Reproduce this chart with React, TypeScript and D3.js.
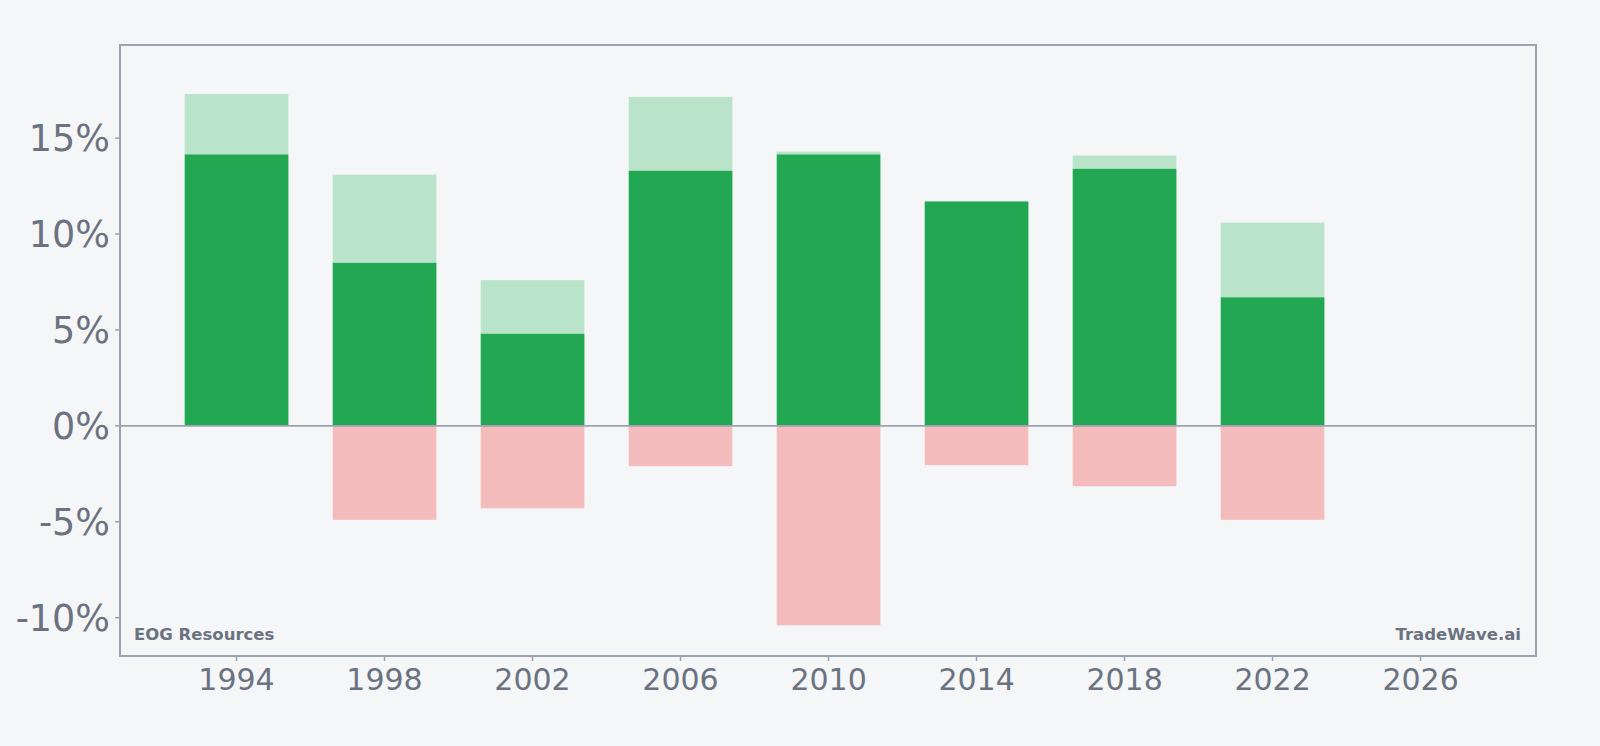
import React from "react";
import * as d3 from "d3";

// yearly return ranges, in percent
const years = [1994, 1998, 2002, 2006, 2010, 2014, 2018, 2022];
const highs = [17.3, 13.1, 7.6, 17.15, 14.3, 11.7, 14.1, 10.6];
const mids = [14.15, 8.5, 4.8, 13.3, 14.15, 11.7, 13.4, 6.7];
const lows = [0, -4.9, -4.3, -2.1, -10.4, -2.05, -3.15, -4.9];

const xTicks = [1994, 1998, 2002, 2006, 2010, 2014, 2018, 2022, 2026];
const yTicks = [-10, -5, 0, 5, 10, 15];

const W = 1600;
const H = 746;
const left = 120;
const right = 1536;
const top = 45;
const bottom = 656;

const grey = "#6b7280";
const frame = "#9ca3af";

export default function App() {
  const x = d3.scaleLinear().domain([1990.85, 2029.12]).range([left, right]);
  const y = d3.scaleLinear().domain([-12.0, 19.86]).range([bottom, top]);
  const bw = x(1994 + 1.4) - x(1994 - 1.4);

  return (
    <svg
      width={W}
      height={H}
      style={{ position: "absolute", left: 0, top: 0, background: "#f4f6f8" }}
      fontFamily="DejaVu Sans"
    >
      <rect width={W} height={H} fill="#f4f6f8" />
      {years.map((yr, i) => (
        <g key={yr}>
          {lows[i] < 0 && (
            <rect x={x(yr) - bw / 2} y={y(0)} width={bw} height={y(lows[i]) - y(0)} fill="#f4bcbc" />
          )}
          <rect x={x(yr) - bw / 2} y={y(highs[i])} width={bw} height={y(0) - y(highs[i])} fill="#b9e4ca" />
          <rect x={x(yr) - bw / 2} y={y(mids[i])} width={bw} height={y(0) - y(mids[i])} fill="#22a852" />
        </g>
      ))}
      <line x1={left} x2={right} y1={y(0)} y2={y(0)} stroke={frame} strokeWidth={1.6} />
      <rect x={left} y={top} width={right - left} height={bottom - top} fill="none" stroke={frame} strokeWidth={2} />
      {yTicks.map((t) => (
        <g key={t}>
          <line x1={left - 5} x2={left} y1={y(t)} y2={y(t)} stroke={frame} strokeWidth={1.5} />
          <text x={left - 10} y={y(t)} dy="0.36em" textAnchor="end" fontSize={36.5} fill={grey}>
            {`${t}%`}
          </text>
        </g>
      ))}
      {xTicks.map((t) => (
        <g key={t}>
          <line x1={x(t)} x2={x(t)} y1={bottom} y2={bottom + 5} stroke={frame} strokeWidth={1.5} />
          <text x={x(t)} y={bottom + 34} textAnchor="middle" fontSize={30} fill={grey}>
            {t}
          </text>
        </g>
      ))}
      <text x={134} y={640} fontSize={16.5} fontWeight="bold" fill={grey}>
        EOG Resources
      </text>
      <text x={1521} y={640} fontSize={16.5} fontWeight="bold" fill={grey} textAnchor="end">
        TradeWave.ai
      </text>
    </svg>
  );
}
